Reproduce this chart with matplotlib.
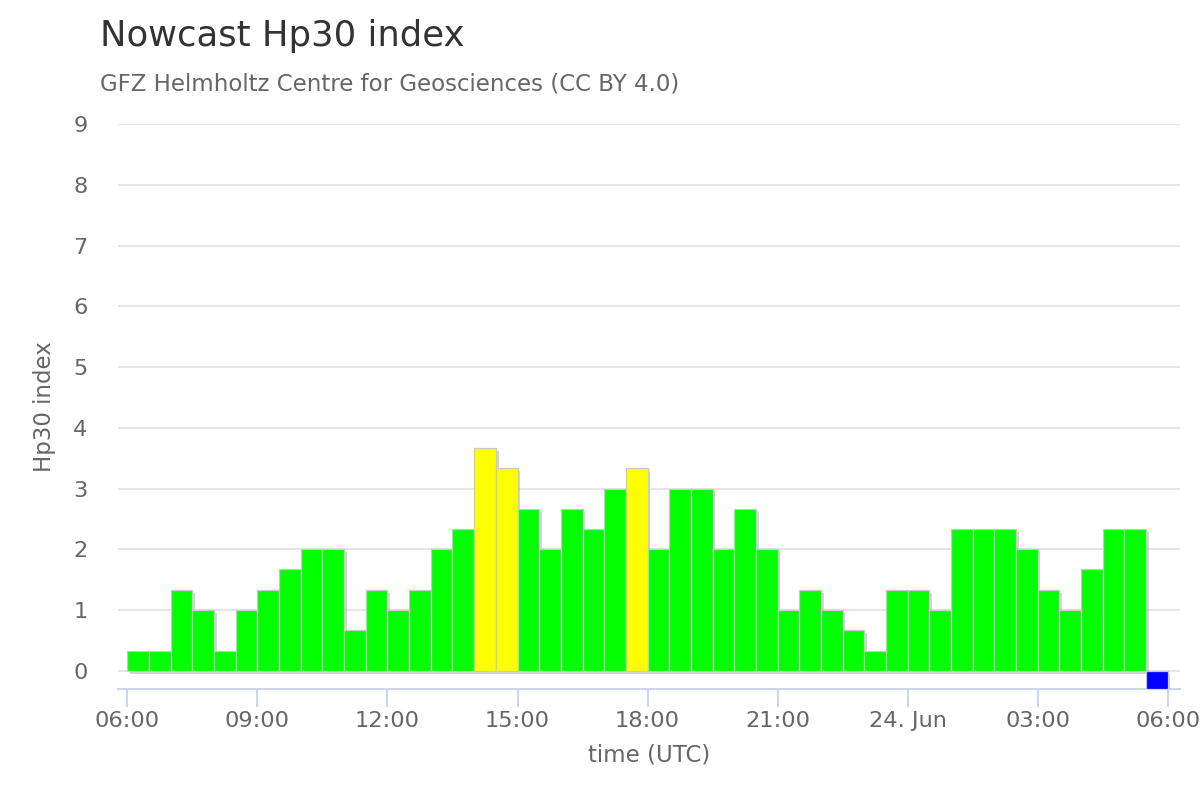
import numpy as np
import pandas as pd
import matplotlib
matplotlib.use("Agg")
import matplotlib.pyplot as plt
import matplotlib.patheffects as pe

# Hp30 values, one per 30-minute slot starting 06:00 UTC on 23 Jun
start = "2024-06-23 06:00"
hp30 = [0.333, 0.333, 1.333, 1.0, 0.333, 1.0, 1.333, 1.667, 2.0, 2.0,
        0.667, 1.333, 1.0, 1.333, 2.0, 2.333, 3.667, 3.333, 2.667, 2.0,
        2.667, 2.333, 3.0, 3.333, 2.0, 3.0, 3.0, 2.0, 2.667, 2.0,
        1.0, 1.333, 1.0, 0.667, 0.333, 1.333, 1.333, 1.0, 2.333, 2.333,
        2.333, 2.0, 1.333, 1.0, 1.667, 2.333, 2.333, -0.3]
tick_labels = ["06:00", "09:00", "12:00", "15:00", "18:00",
               "21:00", "24. Jun", "03:00", "06:00"]

times = pd.date_range(start, periods=len(hp30), freq="30min")
colors = ["#0000ff" if v < 0 else ("#ffff00" if v > 3.2 else "#00ff00") for v in hp30]

fig = plt.figure(figsize=(12, 8), dpi=100)
ax = fig.add_axes([118/1200, 1 - 689/800, 1062/1200, 565/800])

bars = ax.bar(times, hp30, width=1/48, align="edge", color=colors,
              edgecolor="#c8c8c8", linewidth=0.9, zorder=3)
for b in bars:
    b.set_path_effects([pe.SimplePatchShadow(offset=(2, -2), shadow_rgbFace="#888888", alpha=0.35),
                        pe.Normal()])

t0 = times[0]
ax.set_xlim(t0 - pd.Timedelta(minutes=13), t0 + pd.Timedelta(hours=24, minutes=17))
ax.set_ylim(-0.3, 9)

ticks = pd.date_range(start, periods=len(tick_labels), freq="3h")
ax.set_xticks(ticks)
ax.set_xticklabels(tick_labels)
ax.set_yticks(range(10))

for s in ["top", "right", "left"]:
    ax.spines[s].set_visible(False)
ax.spines["bottom"].set_color("#ccd6eb")
ax.spines["bottom"].set_linewidth(1.5)
ax.tick_params(axis="x", colors="#ccd6eb", length=13, width=1.5, labelcolor="#666666",
               labelsize=16.2, pad=3)
ax.tick_params(axis="y", length=0, labelcolor="#666666", labelsize=16.2, pad=22)
ax.grid(axis="y", color="#e6e6e6", linewidth=1.5, zorder=0)
ax.set_axisbelow(True)

ax.set_xlabel("time (UTC)", fontsize=16.5, color="#666666", labelpad=9)
ax.set_ylabel("Hp30 index", fontsize=16.5, color="#666666", labelpad=12)

fig.text(100/1200, 1 - 36/800, "Nowcast Hp30 index", fontsize=25.5, color="#333333",
         va="center", ha="left")
fig.text(100/1200, 1 - 84/800, "GFZ Helmholtz Centre for Geosciences (CC BY 4.0)",
         fontsize=16.5, color="#666666", va="center", ha="left")

fig.savefig("out.png", dpi=100)
